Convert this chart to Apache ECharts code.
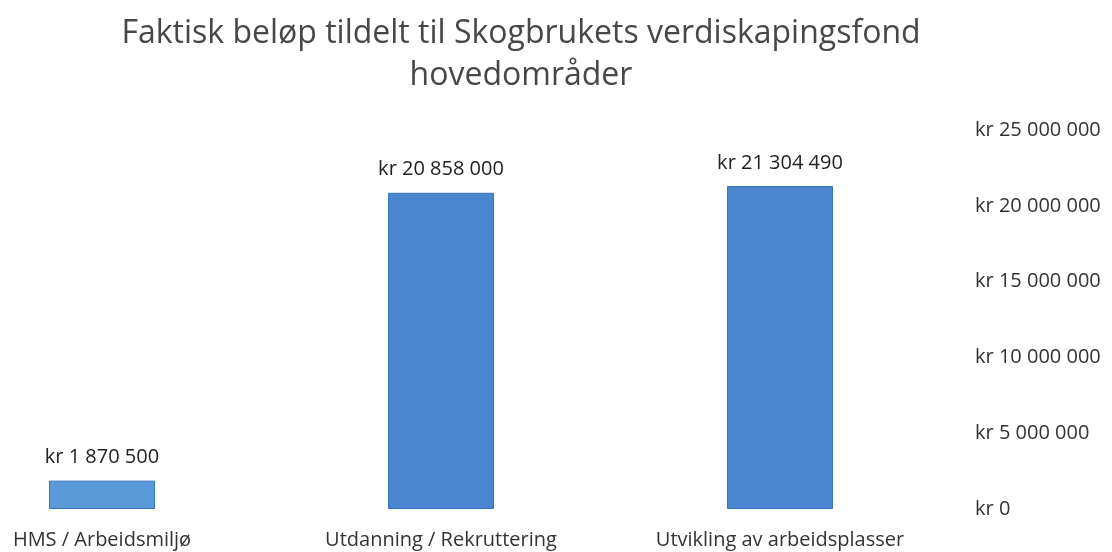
<!DOCTYPE html>
<html>
<head>
    <meta charset="utf-8">
    <title>Skogbrukets verdiskapingsfond</title>
    <script src="https://cdn.jsdelivr.net/npm/echarts@6/dist/echarts.min.js"></script>
    <style>
        html, body { margin: 0; padding: 0; background: #fff; }
        #chart { width: 1112px; height: 552px; }
    </style>
</head>
<body>
<div id="chart"></div>
<script type="text/javascript">
    // kategorier og beløp (kr)
    var categories = ['HMS / Arbeidsmiljø', 'Utdanning / Rekruttering', 'Utvikling av arbeidsplasser'];
    var amounts = [1870500, 20858000, 21304490];
    var barColors = ['#5a9ad8', '#4a85cf', '#4a85cf'];

    // "kr 20 858 000"
    function kr(v) {
        return 'kr ' + String(v).replace(/\B(?=(\d{3})+(?!\d))/g, ' ');
    }

    var myChart = echarts.init(document.getElementById('chart'));
    var font = 'Open Sans, Noto Sans, sans-serif';

    var option = {
        animation: false,
        backgroundColor: '#ffffff',
        title: {
            text: 'Faktisk beløp tildelt til Skogbrukets verdiskapingsfond\nhovedområder',
            left: 516,
            textAlign: 'center',
            top: 8,
            textStyle: {
                fontFamily: font,
                fontWeight: 'normal',
                fontSize: 32,
                lineHeight: 42,
                color: '#474747'
            }
        },
        // kategoriene ligger på tick-punktene (boundaryGap false)
        grid: {
            left: 102,
            right: 332,
            top: 130,
            bottom: 43,
            containLabel: false
        },
        xAxis: {
            type: 'category',
            data: categories,
            boundaryGap: false,
            axisLine: { show: false },
            axisTick: { show: false },
            axisLabel: {
                interval: 0,
                margin: 21,
                fontFamily: font,
                fontSize: 20,
                color: '#333'
            }
        },
        yAxis: {
            type: 'value',
            position: 'right',
            min: 0,
            max: 25000000,
            interval: 5000000,
            splitLine: { show: false },
            axisLine: { show: false },
            axisTick: { show: false },
            axisLabel: {
                margin: 195,
                align: 'left',
                fontFamily: font,
                fontSize: 20,
                color: '#333',
                formatter: kr
            }
        },
        series: [{
            type: 'bar',
            barWidth: 106,
            data: amounts.map(function (v, i) {
                return {
                    value: v,
                    itemStyle: { color: barColors[i], borderColor: '#3d72bd', borderWidth: 1 }
                };
            }),
            label: {
                show: true,
                position: 'top',
                distance: 13,
                fontFamily: font,
                fontSize: 20,
                color: '#222',
                formatter: function (p) { return kr(p.value); }
            }
        }]
    };
    myChart.setOption(option);
</script>
</body>
</html>
